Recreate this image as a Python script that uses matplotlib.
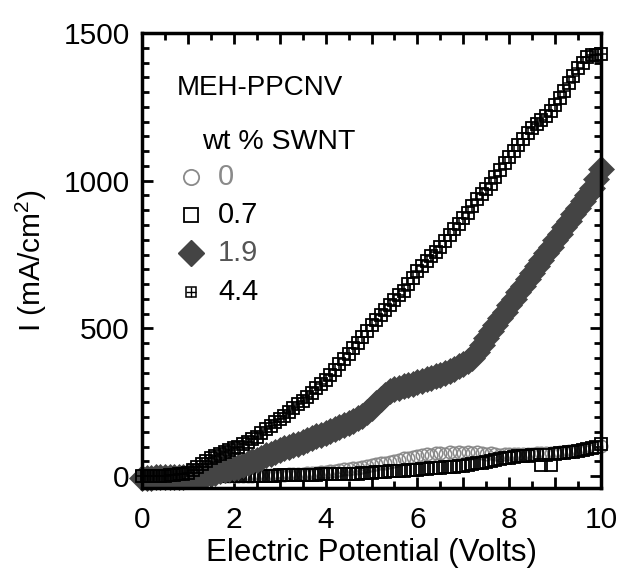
import numpy as np
import matplotlib
matplotlib.use("Agg")
import matplotlib.pyplot as plt
from matplotlib.ticker import MultipleLocator, FuncFormatter

plt.rcParams['font.family'] = ['Liberation Sans', 'DejaVu Sans']
plt.rcParams['mathtext.default'] = 'regular'

# voltage sweep, 0.1 V steps
volts = np.linspace(0, 10, 101)

# current density (mA/cm^2), one list per SWNT loading
cur_0 = [0, 0, 0, 0, 0, 0, 0, 0, 0, 0,
         0, 0, 0, 0, 0, 0, 1, 1, 1, 1,
         1, 1, 2, 2, 2, 3, 3, 3, 4, 4,
         5, 5, 6, 7, 8, 9, 10, 11, 12, 14,
         15, 17, 19, 21, 23, 25, 27, 29, 31, 34,
         37, 40, 43, 46, 49, 52, 56, 60, 63, 66,
         68, 72, 75, 70, 78, 80, 76, 82, 79, 81,
         80, 83, 78, 81, 77, 76, 79, 74, 73, 75,
         74, 76, 75, 74, 76, 75, 77, 78, 79, 80,
         80, 81, 83, 84, 86, 88, 90, 93, 96, 99,
         102]

cur_07 = [-3, -3, -3, -3, -3, -3, -3, -2, -2, -2,
          -2, -2, -2, -1, -1, -1, -1, 0, 0, 0,
          0, 0, 1, 1, 1, 1, 2, 2, 2, 2,
          3, 3, 3, 4, 4, 4, 5, 5, 5, 6,
          6, 6, 7, 7, 8, 8, 9, 9, 10, 11,
          12, 13, 14, 15, 16, 17, 18, 19, 20, 21,
          22, 23, 25, 26, 27, 28, 30, 31, 32, 34,
          35, 37, 40, 43, 46, 49, 52, 55, 58, 61,
          63, 65, 67, 68, 69, 70, 71, 38, 72, 38,
          75, 77, 79, 81, 83, 85, 88, 92, 96, 100,
          108]

cur_19 = [-5, -5, -5, -4, -4, -4, -3, -3, -2, -2,
          -1, 0, 1, 2, 5, 8, 12, 16, 20, 24,
          28, 32, 38, 44, 50, 56, 63, 70, 76, 82,
          88, 94, 100, 105, 110, 116, 122, 128, 135, 141,
          147, 153, 160, 166, 173, 180, 188, 196, 205, 216,
          230, 246, 262, 276, 287, 294, 300, 304, 308, 313,
          318, 323, 328, 332, 338, 344, 350, 357, 364, 372,
          380, 390, 400, 420, 445, 468, 490, 512, 534, 556,
          578, 600, 622, 644, 666, 688, 710, 732, 754, 776,
          798, 820, 842, 864, 886, 908, 930, 952, 975, 1005,
          1040]

cur_44 = [0, 0, 1, 1, 2, 2, 3, 4, 6, 8,
          12, 20, 30, 42, 52, 60, 68, 76, 82, 88,
          94, 100, 108, 116, 125, 134, 145, 158, 170, 182,
          193, 204, 216, 230, 243, 256, 268, 282, 297, 312,
          327, 343, 360, 378, 395, 415, 433, 450, 470, 490,
          512, 528, 545, 562, 580, 596, 612, 628, 650, 672,
          693, 712, 728, 744, 760, 776, 795, 815, 835, 855,
          873, 892, 915, 937, 955, 972, 990, 1012, 1035, 1060,
          1080, 1100, 1120, 1140, 1160, 1177, 1192, 1206, 1220, 1235,
          1255, 1280, 1305, 1330, 1355, 1380, 1400, 1420, 1425, 1425,
          1428]

labels = ['0', '0.7', '1.9', '4.4']

gray = '#8a8a8a'
dark = '#444444'

fig = plt.figure(figsize=(6.21, 5.71), dpi=100)
ax = fig.add_axes([0.2287, 0.1454, 0.7391, 0.7968])

ax.plot(volts, cur_0, 'o', ms=9, mfc='none', mec=gray, mew=1.1, clip_on=False)
ax.plot(volts, cur_07, 's', ms=8.5, mfc='none', mec='black', mew=1.3, clip_on=False)
ax.plot(volts, cur_19, 'D', ms=13, mfc=dark, mec=dark, mew=0.5, clip_on=False)
ax.plot(volts, cur_44, 's', ms=9, mfc='none', mec='black', mew=1.3, clip_on=False)
ax.plot(volts, cur_44, '+', ms=9, mec='black', mew=1.1, clip_on=False)

ax.set_xlim(0, 10)
ax.set_ylim(-40, 1500)
ax.xaxis.set_major_locator(MultipleLocator(1))
ax.xaxis.set_minor_locator(MultipleLocator(0.5))
ax.xaxis.set_major_formatter(FuncFormatter(lambda v, p: '%d' % v if int(round(v)) % 2 == 0 else ''))
ax.yaxis.set_major_locator(MultipleLocator(500))
ax.yaxis.set_minor_locator(MultipleLocator(50))

ax.tick_params(which='both', direction='in', top=True, right=True, labelsize=21.5, width=2)
ax.tick_params(which='major', length=8)
ax.tick_params(which='minor', length=5)
ax.tick_params(axis='x', which='major', pad=13)
ax.tick_params(axis='y', which='major', pad=9)
for s in ax.spines.values():
    s.set_linewidth(2.5)

ax.set_xlabel('Electric Potential (Volts)', fontsize=22.5, labelpad=3)
ax.set_ylabel('I (mA/cm$^2$)', fontsize=21.5, labelpad=10)

# legend drawn by hand, as in the original
ax.text(0.076, 0.879, 'MEH-PPCNV', transform=ax.transAxes, fontsize=20, va='center')
ax.text(0.131, 0.760, 'wt % SWNT', transform=ax.transAxes, fontsize=20.5, va='center')
rows = [0.684, 0.600, 0.516, 0.431]
txt_colors = [gray, 'black', '#555555', 'black']
mx = 0.107
for lab, yy, c in zip(labels, rows, txt_colors):
    ax.text(0.166, yy, lab, transform=ax.transAxes, fontsize=21, va='center', color=c)
ax.plot([mx], [rows[0]], 'o', ms=11, mfc='none', mec=gray, mew=1.3, transform=ax.transAxes, clip_on=False)
ax.plot([mx], [rows[1]], 's', ms=9.5, mfc='none', mec='black', mew=1.3, transform=ax.transAxes, clip_on=False)
ax.plot([mx], [rows[2]], 'D', ms=13, mfc=dark, mec=dark, transform=ax.transAxes, clip_on=False)
ax.plot([mx], [rows[3]], 's', ms=7.5, mfc='none', mec='black', mew=1.1, transform=ax.transAxes, clip_on=False)
ax.plot([mx], [rows[3]], '+', ms=7.5, mec='black', mew=1.0, transform=ax.transAxes, clip_on=False)

fig.savefig('out.png', dpi=100)
